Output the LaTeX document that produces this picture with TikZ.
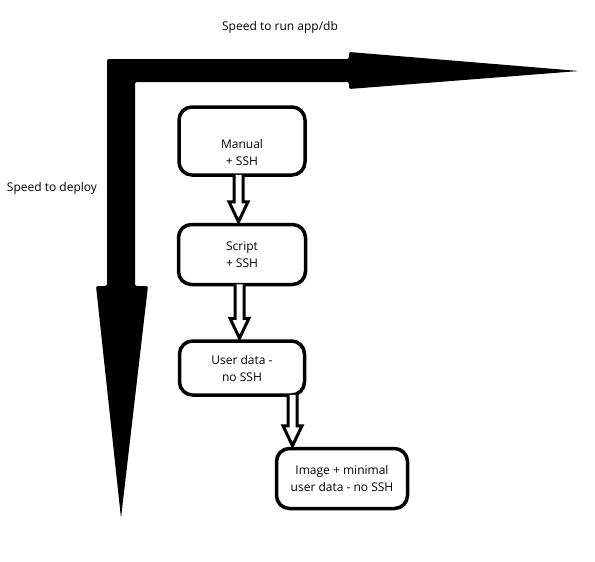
\documentclass[tikz,border=0pt]{standalone}
\usepackage{fontspec}
\setmainfont{Open Sans}
\usepackage{tikz}
\usetikzlibrary{positioning,calc}
\tikzstyle{stage} = [rectangle, rounded corners=13pt, draw=black, line width=3.5pt, text centered, align=center, font=\fontsize{12}{17}\selectfont]
\tikzstyle{axislabel} = [font=\fontsize{12}{14}\selectfont]
\tikzstyle{hollow} = [draw=black, line width=3pt, line join=miter, fill=white]
\tikzstyle{axis} = [fill=black, rounded corners=2pt]
% open double-walled arrow from a box edge down to a tip
\newcommand{\hollowarrow}[2]{%
  \draw[hollow] ($(#2 |- #1)+(-4.5,-2)$) -- ($(#2)+(-4.5,-20)$) -- ($(#2)+(-9.5,-20)$) -- (#2)
    -- ($(#2)+(9.5,-20)$) -- ($(#2)+(4.5,-20)$) -- ($(#2 |- #1)+(4.5,-2)$);}

\begin{document}
\begin{tikzpicture}[x=1pt, y=-1pt]
\useasboundingbox (0,0) rectangle (595,562);

% the two speed axes
\fill[axis] (107,59) -- (349,59) -- (349,52) -- (579,71) -- (349,89) -- (349,82) -- (135,82)
  -- (135,286) -- (148,286) -- (121,518) -- (96,286) -- (107,286) -- cycle;
\node (runlabel) [axislabel] at (280,27) {Speed to run app/db};
\node (deploylabel) [axislabel] at (52,188) {Speed to deploy};

\node (manual) [stage, minimum width=126pt, minimum height=68pt] at (242,141) {\rule{0pt}{33pt}Manual\\ + SSH};
\node (script) [stage, minimum width=127pt, minimum height=60pt, below=46pt of manual] {Script\\ + SSH};
\node (userdata) [stage, minimum width=125pt, minimum height=54pt, below=53pt of script] {User data -\\ no SSH};
\node (image) [stage, minimum width=131pt, minimum height=60pt, below=50pt of userdata, xshift=100pt] {Image + minimal\\ user data - no SSH};

\coordinate (tipA) at ($(script.north)+(-3.5,-1)$);
\coordinate (tipB) at ($(userdata.north)+(-2.5,-1)$);
\coordinate (tipC) at ($(image.north)+(-49.5,-1)$);
\hollowarrow{manual.south}{tipA}
\hollowarrow{script.south}{tipB}
\hollowarrow{userdata.south}{tipC}
\end{tikzpicture}
\end{document}
